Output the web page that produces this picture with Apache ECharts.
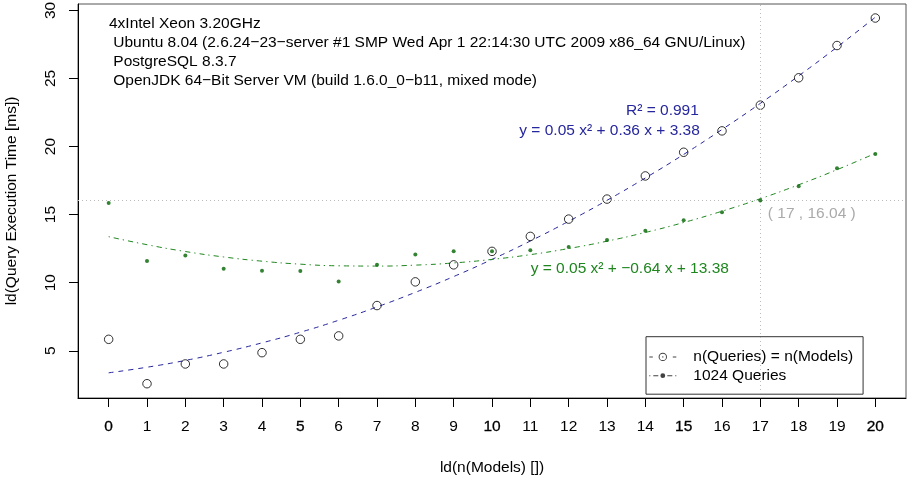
<!DOCTYPE html>
<html>
<head>
<meta charset="utf-8">
<script src="https://cdn.jsdelivr.net/npm/echarts@6/dist/echarts.min.js"></script>
<style>
  html, body { margin: 0; padding: 0; background: #fff; }
  #main { width: 908px; height: 478px; }
</style>
</head>
<body>
<div id="main"></div>
<script>
var myChart = echarts.init(document.getElementById('main'));

// x = ld(n(Models))
var xValues = [0, 1, 2, 3, 4, 5, 6, 7, 8, 9, 10, 11, 12, 13, 14, 15, 16, 17, 18, 19, 20];
var xTicks = [0, 1, 2, 3, 4, 5, 6, 7, 8, 9, 10, 11, 12, 13, 14, 15, 16, 17, 18, 19, 20];
var boldTicks = [0, 5, 10, 15, 20];
var yTicks = [5, 10, 15, 20, 25, 30];

// ld(Query Execution Time [ms])
var modelQueries = [5.84, 2.58, 4.03, 4.03, 4.86, 5.84, 6.09, 8.32, 10.06, 11.31, 12.30,
                    13.40, 14.67, 16.14, 17.84, 19.58, 21.15, 23.04, 25.05, 27.42, 29.44];
var fixedQueries = [15.85, 11.60, 12.00, 11.02, 10.87, 10.85, 10.09, 11.31, 12.07, 12.30, 12.30,
                    12.39, 12.63, 13.13, 13.81, 14.58, 15.17, 16.04, 17.08, 18.40, 19.46];

// fitted curves as drawn
var modelFit = [3.38, 3.79, 4.29, 4.89, 5.58, 6.36, 7.24, 8.22, 9.29, 10.45, 11.71,
                13.06, 14.51, 16.05, 17.69, 19.42, 21.25, 23.17, 25.19, 27.30, 29.50];
var fixedFit = [13.38, 12.79, 12.29, 11.89, 11.58, 11.36, 11.24, 11.22, 11.29, 11.45, 11.71,
                12.06, 12.51, 13.05, 13.69, 14.42, 15.25, 16.17, 17.19, 18.30, 19.50];

var crossPoint = [17, 16.04];
var seriesNames = ['n(Queries) = n(Models)', '1024 Queries'];
var infoLines = [
    '4xIntel Xeon 3.20GHz',
    ' Ubuntu 8.04 (2.6.24\u221223\u2212server #1 SMP Wed Apr 1 22:14:30 UTC 2009 x86_64 GNU/Linux)',
    ' PostgreSQL 8.3.7',
    ' OpenJDK 64\u2212Bit Server VM (build 1.6.0_0\u2212b11, mixed mode)'
];
var modelFitText = ['R\u00b2 = 0.991', 'y = 0.05 x\u00b2 + 0.36 x + 3.38'];
var fixedFitText = 'y = 0.05 x\u00b2 + \u22120.64 x + 13.38';

var font = 'Liberation Sans';
var fs = 15.5;
var blue = '#26269e';
var green = '#1f861f';

function pairs(ys) {
    return xValues.map(function (x, i) { return [x, ys[i]]; });
}

// legend glyphs: dash - circle - dash, dot - dash - filled dot - dash - dot
var iconModel = 'path://M0,4 L3.5,4 L3.5,5 L0,5 Z ' +
    'M9.3,4.5 A4.2,4.2 0 1 1 17.7,4.5 A4.2,4.2 0 1 1 9.3,4.5 Z ' +
    'M10.3,4.5 A3.2,3.2 0 1 0 16.7,4.5 A3.2,3.2 0 1 0 10.3,4.5 Z ' +
    'M12.8,4.5 A0.7,0.7 0 1 1 14.2,4.5 A0.7,0.7 0 1 1 12.8,4.5 Z ' +
    'M23.5,4 L27,4 L27,5 L23.5,5 Z';
var iconFixed = 'path://M0,4 L1,4 L1,5 L0,5 Z M4,4 L9,4 L9,5 L4,5 Z ' +
    'M11.1,4.5 A2.4,2.4 0 1 1 15.9,4.5 A2.4,2.4 0 1 1 11.1,4.5 Z ' +
    'M18,4 L23,4 L23,5 L18,5 Z M26,4 L27,4 L27,5 L26,5 Z';

var option = {
    animation: false,
    backgroundColor: '#fff',
    textStyle: { fontFamily: font },
    title: {
        text: infoLines.join('\n'),
        left: 109,
        top: 13.7,
        padding: 0,
        textStyle: { fontSize: fs, fontWeight: 'normal', color: '#000', lineHeight: 19.2, fontFamily: font }
    },
    grid: {
        left: 78, right: 2, top: 4, bottom: 80,
        outerBoundsMode: 'none',
        containLabel: false,
        show: true, borderColor: '#555', borderWidth: 1
    },
    legend: {
        orient: 'vertical',
        left: 646,
        top: 336.7,
        padding: [12.2, 10, 10.5, 3.3],
        itemWidth: 27,
        itemHeight: 9,
        itemGap: 2.8,
        borderColor: '#333',
        borderWidth: 1,
        textStyle: { fontSize: fs, color: '#000', fontFamily: font, padding: [0, 0, 0, 12] },
        data: [
            { name: seriesNames[0], icon: iconModel, itemStyle: { color: '#111', borderWidth: 0 } },
            { name: seriesNames[1], icon: iconFixed, itemStyle: { color: '#111', borderWidth: 0 } }
        ]
    },
    xAxis: {
        type: 'value',
        min: -0.8,
        max: 20.8,
        name: 'ld(n(Models) [])',
        nameLocation: 'middle',
        nameGap: 61.5,
        nameTextStyle: { fontSize: fs, color: '#000', fontFamily: font },
        axisLine: { show: true, onZero: false, lineStyle: { color: '#000', width: 1 } },
        axisTick: { show: true, customValues: xTicks, length: 9, lineStyle: { color: '#000' } },
        axisLabel: {
            customValues: xTicks,
            margin: 20.6,
            fontSize: fs,
            color: '#000',
            fontFamily: font,
            formatter: function (v) {
                return boldTicks.indexOf(v) >= 0 ? '{b|' + v + '}' : String(v);
            },
            rich: {
                b: { fontSize: fs, color: '#000', fontFamily: font, textBorderColor: '#000', textBorderWidth: 0.3 }
            }
        },
        splitLine: { show: false }
    },
    yAxis: {
        type: 'value',
        min: 1.53,
        max: 30.47,
        name: 'ld(Query Execution Time [ms])',
        nameLocation: 'middle',
        nameGap: 58,
        nameTextStyle: { fontSize: fs, color: '#000', fontFamily: font },
        axisLine: { show: true, onZero: false, lineStyle: { color: '#000', width: 1 } },
        axisTick: { show: true, customValues: yTicks, length: 9, lineStyle: { color: '#000' } },
        axisLabel: { customValues: yTicks, rotate: 90, margin: 19.3, fontSize: fs, color: '#000', fontFamily: font },
        splitLine: { show: false }
    },
    graphic: [
        { type: 'text', x: 626, y: 110.7, style: { text: modelFitText[0], fill: blue, font: fs + 'px ' + font, align: 'left', verticalAlign: 'middle' } },
        { type: 'text', x: 519.3, y: 130.7, style: { text: modelFitText[1], fill: blue, font: fs + 'px ' + font, align: 'left', verticalAlign: 'middle' } },
        { type: 'text', x: 530.7, y: 268.3, style: { text: fixedFitText, fill: green, font: fs + 'px ' + font, align: 'left', verticalAlign: 'middle' } }
    ],
    series: [
        {
            name: seriesNames[0],
            type: 'scatter',
            z: 4,
            symbol: 'circle',
            symbolSize: 8.5,
            itemStyle: { color: 'rgba(0,0,0,0)', borderColor: '#000', borderWidth: 1 },
            data: pairs(modelQueries)
        },
        {
            name: seriesNames[1],
            type: 'scatter',
            z: 5,
            symbol: 'circle',
            symbolSize: 4,
            itemStyle: { color: '#006400' },
            data: pairs(fixedQueries)
        },
        {
            name: seriesNames[0],
            type: 'line',
            z: 3,
            smooth: true,
            showSymbol: false,
            lineStyle: { color: blue, width: 1, type: [5, 5] },
            data: pairs(modelFit)
        },
        {
            name: seriesNames[1],
            type: 'line',
            z: 3,
            smooth: true,
            showSymbol: false,
            lineStyle: { color: green, width: 1, type: [1.3, 4, 5.2, 4] },
            data: pairs(fixedFit),
            markLine: {
                silent: true,
                symbol: ['none', 'none'],
                label: { show: false },
                lineStyle: { color: '#bbb', type: [1, 3], width: 1 },
                data: [{ xAxis: crossPoint[0] }, { yAxis: crossPoint[1] }]
            },
            markPoint: {
                symbol: 'circle',
                symbolSize: 1,
                itemStyle: { color: 'rgba(0,0,0,0)' },
                label: {
                    show: true,
                    position: 'right',
                    distance: 0,
                    offset: [7, 13],
                    color: '#aaa',
                    fontSize: fs,
                    fontFamily: font,
                    formatter: '( ' + crossPoint[0] + ' , ' + crossPoint[1].toFixed(2) + ' )'
                },
                data: [{ coord: crossPoint }]
            }
        }
    ]
};
myChart.setOption(option);
</script>
</body>
</html>
